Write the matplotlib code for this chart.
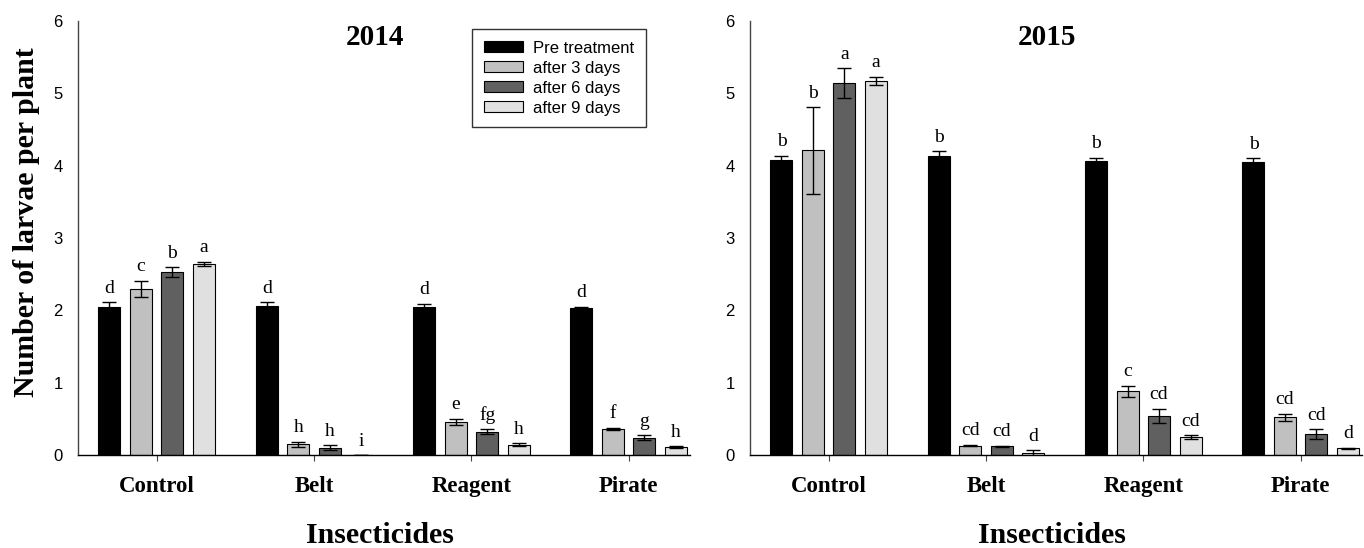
import numpy as np
import matplotlib
matplotlib.use('Agg')
import matplotlib.pyplot as plt

plt.rcParams['font.family'] = ['Liberation Sans', 'DejaVu Sans']

insecticides = ['Control', 'Belt', 'Reagent', 'Pirate']
periods = ['Pre treatment', 'after 3 days', 'after 6 days', 'after 9 days']
colors = ['#000000', '#c0c0c0', '#606060', '#e0e0e0']

# rows = periods (pre, 3, 6, 9 days), columns = insecticides
mean_2014 = [[2.04, 2.06, 2.05, 2.03],
             [2.30, 0.15, 0.46, 0.36],
             [2.53, 0.10, 0.32, 0.24],
             [2.64, 0.00, 0.14, 0.11]]
err_2014 = [[0.07, 0.05, 0.04, 0.02],
            [0.11, 0.035, 0.04, 0.02],
            [0.07, 0.035, 0.035, 0.03],
            [0.03, 0.00, 0.02, 0.01]]
letters_2014 = [['d', 'd', 'd', 'd'],
                ['c', 'h', 'e', 'f'],
                ['b', 'h', 'fg', 'g'],
                ['a', 'i', 'h', 'h']]

mean_2015 = [[4.08, 4.13, 4.07, 4.05],
             [4.21, 0.13, 0.88, 0.52],
             [5.14, 0.12, 0.54, 0.29],
             [5.17, 0.03, 0.245, 0.09]]
err_2015 = [[0.06, 0.07, 0.04, 0.05],
            [0.60, 0.01, 0.08, 0.05],
            [0.21, 0.01, 0.10, 0.07],
            [0.06, 0.04, 0.03, 0.01]]
letters_2015 = [['b', 'b', 'b', 'b'],
                ['b', 'cd', 'c', 'cd'],
                ['a', 'cd', 'cd', 'cd'],
                ['a', 'd', 'cd', 'd']]

W, H = 1364, 548
fig = plt.figure(figsize=(W / 100, H / 100), dpi=100)

serif = ['Liberation Serif', 'DejaVu Serif']


def panel(rect, means, errs, letters, year):
    ax = fig.add_axes(rect)
    x = np.arange(len(insecticides))
    for i in range(len(periods)):
        xs = x + (i - 1.5) * 0.2
        ax.bar(xs, means[i], width=0.14, color=colors[i], edgecolor='black',
               linewidth=0.8, label=periods[i], zorder=2)
        ax.errorbar(xs, means[i], yerr=errs[i], fmt='none', ecolor='black',
                    elinewidth=1, capsize=5, capthick=1, zorder=3)
        for xi, m, e, t in zip(xs, means[i], errs[i], letters[i]):
            ax.text(xi, m + e + 0.13, t, ha='center', va='baseline',
                    fontsize=14, family=serif)
    ax.set_xlim(-0.5, 3.39)
    ax.set_ylim(0, 6)
    ax.set_yticks(range(7))
    ax.set_xticks(x)
    ax.set_xticklabels(insecticides, family=serif, fontweight='bold', fontsize=16.5)
    ax.tick_params(axis='x', length=4, width=0.8, color='#444444', pad=11)
    ax.tick_params(axis='y', length=0, pad=11, labelsize=12)
    for s in ['top', 'right']:
        ax.spines[s].set_visible(False)
    for s in ['left', 'bottom']:
        ax.spines[s].set_linewidth(1.0)
    ax.spines['left'].set_color('#444444')
    ax.text(0.485, 0.963, year, transform=ax.transAxes, ha='center', va='center',
            fontsize=21, fontweight='bold', family=serif)
    fig.text((rect[0] + rect[2] / 2) - 4 / W, 1 - 543 / H, 'Insecticides', ha='center',
             va='baseline', fontsize=21.5, fontweight='bold', family=serif)
    return ax


bottom = 1 - 455 / H
height = (455 - 21) / H
ax1 = panel([78 / W, bottom, 612 / W, height], mean_2014, err_2014, letters_2014, '2014')
ax2 = panel([750 / W, bottom, 612 / W, height], mean_2015, err_2015, letters_2015, '2015')

fig.text(27 / W, 1 - 222 / H, 'Number of larvae per plant', rotation=90,
         ha='center', va='center', fontsize=21.5, fontweight='bold', family=serif)

leg = ax1.legend(loc='upper left', bbox_to_anchor=(472 / W, 1 - 29 / H),
                 bbox_transform=fig.transFigure, borderaxespad=0, fontsize=12,
                 fancybox=False, frameon=True, edgecolor='black',
                 handlelength=2.35, handleheight=0.6, handletextpad=0.6,
                 borderpad=0.7, labelspacing=0.3)
leg.get_frame().set_linewidth(1.0)

fig.savefig('out.png', dpi=100)
